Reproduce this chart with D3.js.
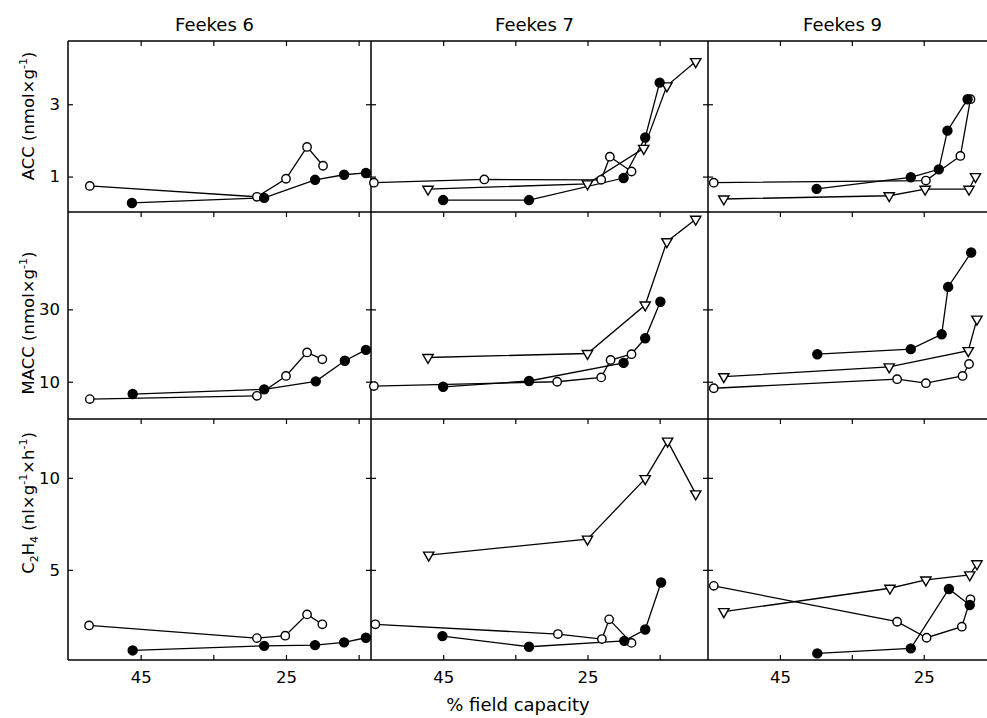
<!DOCTYPE html>
<html>
<head>
<meta charset="utf-8">
<script src="https://cdn.jsdelivr.net/npm/d3@7"></script>
<style>
  body { margin: 0; background: #fff; }
  svg { display: block; }
</style>
</head>
<body>
<svg id="chart" width="987" height="718"></svg>
<script>
const columns = ['Feekes 6', 'Feekes 7', 'Feekes 9'];
const xTicks = [45, 35, 25, 15];
const xTickLabels = [45, 25];
const accTicks = [1, 3];
const maccTicks = [10, 30];
const ethTicks = [5, 10];

// Feekes 6 : [% field capacity, value]
const f6AccOpen = [[52.0, 0.74], [29.0, 0.44], [25.0, 0.94], [22.1, 1.82], [19.9, 1.30]];
const f6AccFilled = [[46.2, 0.27], [28.0, 0.41], [21.0, 0.91], [17.0, 1.05], [14.0, 1.10]];
const f6MaccOpen = [[52.0, 5.2], [29.0, 6.1], [25.0, 11.6], [22.1, 18.1], [20.0, 16.2]];
const f6MaccFilled = [[46.1, 6.6], [28.0, 7.9], [20.9, 10.1], [16.9, 15.8], [14.0, 18.8]];
const f6EthOpen = [[52.1, 1.98], [29.0, 1.29], [25.1, 1.42], [22.1, 2.58], [20.0, 2.04]];
const f6EthFilled = [[46.1, 0.62], [28.0, 0.87], [21.0, 0.91], [17.0, 1.06], [14.0, 1.31]];

// Feekes 7
const f7AccOpen = [[54.6, 0.83], [39.3, 0.92], [23.1, 0.91], [21.9, 1.55], [18.9, 1.14]];
const f7AccFilled = [[45.0, 0.35], [33.1, 0.35], [20.0, 0.96], [17.0, 2.08], [15.0, 3.60]];
const f7AccTri = [[47.1, 0.65], [25.0, 0.80], [17.2, 1.78], [14.0, 3.51], [10.0, 4.18]];
const f7MaccOpen = [[54.6, 8.8], [29.2, 10.0], [23.1, 11.2], [21.8, 16.0], [18.9, 17.6]];
const f7MaccFilled = [[45.0, 8.6], [33.1, 10.2], [20.0, 15.2], [17.0, 22.0], [14.9, 32.1]];
const f7MaccTri = [[47.1, 16.7], [25.0, 17.8], [17.0, 31.2], [14.0, 48.7], [10.0, 54.9]];
const f7EthOpen = [[54.4, 2.04], [29.1, 1.51], [23.0, 1.24], [22.0, 2.31], [18.9, 1.03]];
const f7EthFilled = [[45.1, 1.40], [33.1, 0.82], [19.9, 1.14], [17.0, 1.76], [14.8, 4.31]];
const f7EthTri = [[47.0, 5.80], [25.0, 6.67], [17.0, 9.96], [13.9, 12.0], [10.0, 9.13]];

// Feekes 9
const f9AccOpen = [[54.2, 0.83], [24.7, 0.89], [19.9, 1.57], [18.5, 3.14]];
const f9AccFilled = [[39.9, 0.66], [26.8, 0.98], [22.9, 1.20], [21.7, 2.27], [18.9, 3.14]];
const f9AccTri = [[52.8, 0.38], [29.8, 0.47], [24.8, 0.65], [18.7, 0.65], [17.8, 1.00]];
const f9MaccOpen = [[54.2, 8.2], [28.7, 10.7], [24.7, 9.6], [19.6, 11.6], [18.7, 14.9]];
const f9MaccFilled = [[39.8, 17.6], [26.8, 19.0], [22.5, 23.1], [21.6, 36.2], [18.4, 45.7]];
const f9MaccTri = [[52.8, 11.4], [29.8, 14.1], [18.8, 18.6], [17.6, 27.3]];
const f9EthOpen = [[54.2, 4.13], [28.7, 2.18], [24.6, 1.31], [19.7, 1.91], [18.5, 3.40]];
const f9EthFilled = [[39.8, 0.46], [26.8, 0.73], [21.5, 3.96], [18.6, 3.09]];
const f9EthTri = [[52.8, 2.73], [29.7, 4.00], [24.7, 4.45], [18.6, 4.73], [17.6, 5.33]];

const panels = [
  [[['tri', null], ['open', f6AccOpen], ['filled', f6AccFilled]],
   [['tri', f7AccTri], ['open', f7AccOpen], ['filled', f7AccFilled]],
   [['tri', f9AccTri], ['open', f9AccOpen], ['filled', f9AccFilled]]],
  [[['tri', null], ['open', f6MaccOpen], ['filled', f6MaccFilled]],
   [['tri', f7MaccTri], ['open', f7MaccOpen], ['filled', f7MaccFilled]],
   [['tri', f9MaccTri], ['open', f9MaccOpen], ['filled', f9MaccFilled]]],
  [[['tri', null], ['open', f6EthOpen], ['filled', f6EthFilled]],
   [['tri', f7EthTri], ['open', f7EthOpen], ['filled', f7EthFilled]],
   [['tri', f9EthTri], ['open', f9EthOpen], ['filled', f9EthFilled]]]
];
const rowTicks = [accTicks, maccTicks, ethTicks];

// layout
const font = 'DejaVu Sans, sans-serif';
const colLeft = [68, 371, 708];
const colRight = [371, 708, 987];
const colDomain = [[55, 13.3], [55, 8.3], [55, 16.2]];
const rowTop = [41, 212, 419];
const rowBottom = [212, 419, 660];
const rowDomain = [[0.02, 4.75], [-0.3, 56.9], [0.1, 13.2]];
const labelY = [116, 323, 503];

const svg = d3.select('#chart');

const xs = colDomain.map((d, i) => d3.scaleLinear().domain(d).range([colLeft[i], colRight[i]]));
const ys = rowDomain.map((d, i) => d3.scaleLinear().domain(d).range([rowBottom[i], rowTop[i]]));

function styleAxis(g, showText) {
  g.select('.domain').remove();
  g.selectAll('.tick line').attr('stroke', '#000').attr('stroke-width', 1.2);
  g.selectAll('.tick text')
    .attr('fill', '#000')
    .style('font-family', font)
    .style('font-size', '16.5px');
  if (!showText) g.selectAll('.tick text').remove();
}

// axes ticks
for (let r = 0; r < 3; r++) {
  for (let c = 0; c < 3; c++) {
    const x = xs[c], y = ys[r];
    const inDomain = xTicks.filter(v => v <= colDomain[c][0] && v >= colDomain[c][1]);

    svg.append('g')
      .attr('transform', `translate(${colLeft[c]},0)`)
      .call(d3.axisLeft(y).tickValues(rowTicks[r]).tickSize(-5).tickPadding(8).tickFormat(d => String(d)))
      .call(g => styleAxis(g, c === 0));

    if (c < 2) {
      svg.append('g')
        .attr('transform', `translate(${colRight[c]},0)`)
        .call(d3.axisRight(y).tickValues(rowTicks[r]).tickSize(-5))
        .call(g => styleAxis(g, false));
    }

    svg.append('g')
      .attr('transform', `translate(0,${rowTop[r]})`)
      .call(d3.axisTop(x).tickValues(inDomain).tickSize(-5))
      .call(g => styleAxis(g, false));

    if (r === 2) {
      svg.append('g')
        .attr('transform', `translate(0,${rowBottom[r]})`)
        .call(d3.axisBottom(x).tickValues(inDomain).tickSize(-5).tickPadding(11)
          .tickFormat(v => xTickLabels.includes(v) ? String(v) : ''))
        .call(g => styleAxis(g, true));
    }
  }
}

// frame
const frame = svg.append('g').attr('stroke', '#000').attr('stroke-width', 1.5);
rowTop.concat([rowBottom[2]]).forEach(yy => {
  frame.append('line').attr('x1', colLeft[0]).attr('x2', colRight[2]).attr('y1', yy).attr('y2', yy);
});
colLeft.forEach(xx => {
  frame.append('line').attr('x1', xx).attr('x2', xx).attr('y1', rowTop[0]).attr('y2', rowBottom[2]);
});

// lines and markers
const lineLayer = svg.append('g');
const markLayer = svg.append('g');
const tri = d3.symbol().type(d3.symbolTriangle).size(46);

for (let r = 0; r < 3; r++) {
  for (let c = 0; c < 3; c++) {
    const x = xs[c], y = ys[r];
    const line = d3.line().x(d => x(d[0])).y(d => y(d[1]));
    panels[r][c].forEach(([kind, pts]) => {
      if (!pts) return;
      lineLayer.append('path')
        .attr('d', line(pts))
        .attr('fill', 'none')
        .attr('stroke', '#000')
        .attr('stroke-width', 1.3);
    });
    panels[r][c].forEach(([kind, pts]) => {
      if (!pts) return;
      if (kind === 'tri') {
        markLayer.selectAll(null).data(pts).enter().append('path')
          .attr('d', tri)
          .attr('transform', d => `translate(${x(d[0])},${y(d[1])}) rotate(180)`)
          .attr('fill', '#fff')
          .attr('stroke', '#000')
          .attr('stroke-width', 1.4);
      } else {
        markLayer.selectAll(null).data(pts).enter().append('circle')
          .attr('cx', d => x(d[0]))
          .attr('cy', d => y(d[1]))
          .attr('r', kind === 'open' ? 4.2 : 4.5)
          .attr('fill', kind === 'open' ? '#fff' : '#000')
          .attr('stroke', '#000')
          .attr('stroke-width', 1.4);
      }
    });
  }
}

// column titles
svg.selectAll('.coltitle')
  .data(columns)
  .enter()
  .append('text')
  .attr('x', (d, i) => (colLeft[i] + colRight[i]) / 2 - 5)
  .attr('y', 31)
  .attr('text-anchor', 'middle')
  .style('font-family', font)
  .style('font-size', '18px')
  .text(d => d);

// y labels
function yLabel(r, parts) {
  const t = svg.append('text')
    .attr('transform', `translate(34,${labelY[r]}) rotate(-90)`)
    .attr('text-anchor', 'middle')
    .style('font-family', font)
    .style('font-size', '16.5px');
  let shift = 0;
  parts.forEach(([txt, pos]) => {
    const target = pos === 'sup' ? -7 : pos === 'sub' ? 4 : 0;
    t.append('tspan')
      .attr('dy', target - shift)
      .style('font-size', pos ? '11px' : null)
      .text(txt);
    shift = target;
  });
}
yLabel(0, [['ACC (nmol\u00d7g'], ['-1', 'sup'], [')']]);
yLabel(1, [['MACC (nmol\u00d7g'], ['-1', 'sup'], [')']]);
yLabel(2, [['C'], ['2', 'sub'], ['H'], ['4', 'sub'], [' (nl\u00d7g'], ['-1', 'sup'], ['\u00d7h'], ['-1', 'sup'], [')']]);

// x title
svg.append('text')
  .attr('x', 518)
  .attr('y', 711)
  .attr('text-anchor', 'middle')
  .style('font-family', font)
  .style('font-size', '18px')
  .text('% field capacity');
</script>
</body>
</html>
